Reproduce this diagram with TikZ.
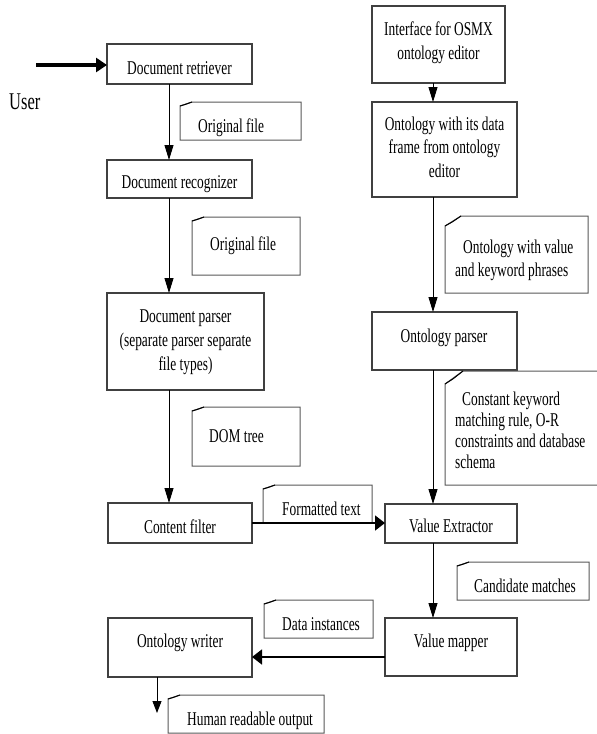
\documentclass[tikz,border=0pt]{standalone}
\usepackage{fontspec}
\setmainfont[FakeStretch=0.687]{Liberation Serif}
\usetikzlibrary{arrows.meta,fit}

% centred / left-aligned stacks whose baseline is that of the first line
\newcommand\cstack[1]{\begin{tabular}[t]{@{}c@{}}#1\end{tabular}}
\newcommand\lstack[1]{\begin{tabular}[t]{@{}l@{}}#1\end{tabular}}

% comment note with a folded top-left corner: left, top, right, bottom, drop, run
\newcommand\foldnote[6]{%
  \draw[notepen] (#1,#4) -- (#1,{#2+#5}) -- ({#1+#6},#2) -- (#3,#2) -- (#3,#4) -- cycle;
  \draw[notepen, black] (#1,{#2+#5}) -- ({#1+0.45*#6},{#2+0.6*#5}) -- ({#1+#6},#2);
}

\begin{document}
\begin{tikzpicture}[x=1pt,y=-1pt,
  txt/.style={font=\fontsize{19.5}{24}\selectfont, inner sep=0pt, anchor=base},
  ntxt/.style={font=\fontsize{19.5}{24}\selectfont, inner sep=0pt, anchor=base west},
  box/.style={draw=black!75, line width=1.1pt, inner sep=0pt, outer sep=0pt},
  notepen/.style={draw=black!65, line width=1pt, line join=miter},
  link/.style={draw=black, line width=0.9pt},
  down/.style={link, -{Triangle[length=15pt,width=9pt]}},
  across/.style={link, line width=1.6pt, -{Triangle[length=10pt,width=15pt]}},
]
\useasboundingbox (0,0) rectangle (597,734);
\fill[white] (0,0) rectangle (597,734);

% ---------- process boxes ----------
\node[box, fit={(107,44) (252,84)}]   (retr)   {};
\node[box, fit={(107,160) (252,198)}] (recog)  {};
\node[box, fit={(107,293) (264,390)}] (parser) {};
\node[box, fit={(108,503) (252,543)}] (cfilt)  {};
\node[box, fit={(108,618) (252,677)}] (owrite) {};
\node[box, fit={(372,6) (505,83)}]    (iface)  {};
\node[box, fit={(372,102) (517,197)}] (odata)  {};
\node[box, fit={(372,312) (517,370)}] (oparse) {};
\node[box, fit={(385,504) (517,543)}] (vext)   {};
\node[box, fit={(385,618) (517,676)}] (vmap)   {};

\node[txt] (retr-t)   at (179.5,74)  {Document retriever};
\node[txt] (recog-t)  at (179.5,188) {Document recognizer};
\node[txt] (parser-t) at (185.5,322) {\cstack{Document parser\\(separate parser separate\\file types)}};
\node[txt] (cfilt-t)  at (180,533)   {Content filter};
\node[txt] (owrite-t) at (180,647)   {Ontology writer};
\node[txt] (iface-t)  at (438.5,35)  {\cstack{Interface for OSMX\\ontology editor}};
\node[txt, font=\fontsize{19.5}{23.5}\selectfont] (odata-t) at (444.5,130) {\cstack{Ontology with its data\\frame from ontology\\editor}};
\node[txt] (oparse-t) at (444,342)   {Ontology parser};
\node[txt] (vext-t)   at (451,532)   {Value Extractor};
\node[txt] (vmap-t)   at (451,647)   {Value mapper};

\node[font=\fontsize{24}{28}\selectfont, inner sep=0pt, anchor=base west] (user) at (9,109) {User};

% ---------- data notes ----------
\foldnote{180}{102}{301}{140}{4}{12}
\node[ntxt] (n1) at (198,132) {Original file};
\foldnote{192}{217}{300}{275}{4}{12}
\node[ntxt] (n2) at (210,250) {Original file};
\foldnote{192}{407}{300}{466}{4}{12}
\node[ntxt] (n3) at (209,442) {DOM tree};
\foldnote{263}{485}{372}{523}{4}{12}
\node[ntxt] (n4) at (282,515) {Formatted text};
\foldnote{457}{562}{589}{600}{4}{12}
\node[ntxt] (n5) at (474,592) {Candidate matches};
\foldnote{264}{600}{373}{638}{4}{12}
\node[ntxt] (n6) at (282,630) {Data instances};
\foldnote{168}{695}{324}{733}{4}{12}
\node[ntxt] (n7) at (187,725) {Human readable output};
\foldnote{445}{216}{588}{293}{10}{16}
\node[ntxt, font=\fontsize{19.5}{23}\selectfont] (n8) at (455,253)
  {\lstack{\hspace*{8pt}Ontology with value\\and keyword phrases}};
\foldnote{445}{371}{610}{485}{13}{18}
\node[ntxt, font=\fontsize{19.5}{21}\selectfont] (n9) at (455,405)
  {\lstack{\hspace*{7pt}Constant keyword\\matching rule, O-R\\constraints and database\\schema}};

% ---------- connectors ----------
\coordinate (lx) at (169,0);
\coordinate (rx) at (433,0);
\coordinate (fy) at (0,523);
\coordinate (wy) at (0,657);
\coordinate (userin) at (36,65);
\coordinate (outend) at (157,713);

\draw[link, line width=3.5pt, -{Triangle[length=11pt,width=14pt]}] (userin) -- (retr.west |- userin);
\draw[down] (retr.south -| lx) -- (recog.north -| lx);
\draw[down] (recog.south -| lx) -- (parser.north -| lx);
\draw[down] (parser.south -| lx) -- (cfilt.north -| lx);
\draw[across] (cfilt.east |- fy) -- (vext.west |- fy);

\draw[down] (iface.south -| rx) -- (odata.north -| rx);
\draw[down] (odata.south -| rx) -- (oparse.north -| rx);
\draw[down] (oparse.south -| rx) -- (vext.north -| rx);
\draw[down] (vext.south -| rx) -- (vmap.north -| rx);
\draw[across] (vmap.west |- wy) -- (owrite.east |- wy);
\draw[down, -{Triangle[length=12pt,width=9pt]}] (owrite.south -| outend) -- (outend);
\end{tikzpicture}
\end{document}
